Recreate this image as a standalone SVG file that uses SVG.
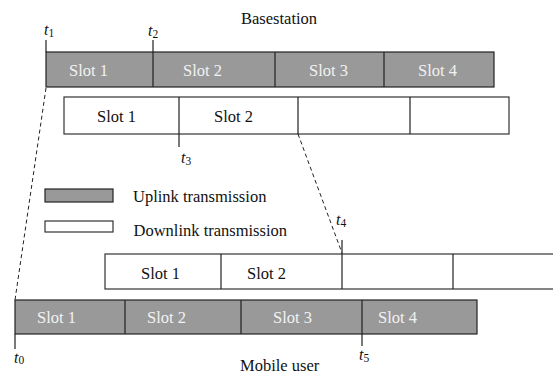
<svg xmlns="http://www.w3.org/2000/svg" width="553" height="374" viewBox="0 0 553 374">
<style>
.t{font-family:"Liberation Serif","Times New Roman",serif;font-size:16.5px;fill:#111}
.w{font-family:"Liberation Serif","Times New Roman",serif;font-size:16.5px;fill:#f2f2f2}
.it{font-family:"Liberation Serif","Times New Roman",serif;font-size:16px;font-style:italic;fill:#111}
.sub{font-size:11.5px;font-style:normal}
.up{fill:#999999;stroke:#222;stroke-width:1.2}
.dn{fill:#ffffff;stroke:#333;stroke-width:1.2}
.div{stroke:#222;stroke-width:1.2;fill:none}
.tick{stroke:#222;stroke-width:1.2;fill:none}
.dash{stroke:#222;stroke-width:1;stroke-dasharray:4,3;fill:none}
</style>
<rect width="553" height="374" fill="#ffffff"/>
<text class="t" x="241" y="24">Basestation</text>
<text class="t" x="240" y="371">Mobile user</text>

<g id="bs-uplink">
<rect class="up" x="46" y="52" width="448" height="35"/>
<path class="div" d="M153 52V87M275 52V87M384 52V87"/>
<text class="w" x="69" y="76">Slot 1</text>
<text class="w" x="183" y="76">Slot 2</text>
<text class="w" x="309" y="76">Slot 3</text>
<text class="w" x="418" y="76">Slot 4</text>
</g>

<g id="bs-downlink">
<rect class="dn" x="64" y="97" width="445" height="37"/>
<path class="div" d="M179 97V147M298 97V134M410 97V134"/>
<text class="t" x="97" y="122">Slot 1</text>
<text class="t" x="214" y="122">Slot 2</text>
</g>

<g id="legend">
<rect class="up" x="45" y="189" width="68" height="13"/>
<text class="t" x="133" y="202">Uplink transmission</text>
<rect class="dn" x="45" y="221" width="68" height="11"/>
<text class="t" x="133.5" y="236">Downlink transmission</text>
</g>

<g id="mu-downlink">
<rect class="dn" x="105" y="254" width="460" height="35"/>
<path class="div" d="M221 254V289M342 254V289M453 254V289"/>
<text class="t" x="141" y="279">Slot 1</text>
<text class="t" x="247" y="279">Slot 2</text>
</g>

<g id="mu-uplink">
<rect class="up" x="15" y="300" width="462" height="34"/>
<path class="div" d="M125 300V334M241 300V334M362 300V334"/>
<text class="w" x="37" y="323">Slot 1</text>
<text class="w" x="147" y="323">Slot 2</text>
<text class="w" x="273" y="323">Slot 3</text>
<text class="w" x="378" y="323">Slot 4</text>
</g>

<g id="connectors">
<path class="tick" d="M46 40V52M153 40V52M342 240V254M15 334V349M362 334V346"/>
<path class="dash" d="M46 88L15 300"/>
<path class="dash" d="M298 134L342 253"/>
</g>

<g id="labels">
<text class="it" x="44" y="35">t<tspan class="sub" dy="2">1</tspan></text>
<text class="it" x="148" y="36">t<tspan class="sub" dy="2">2</tspan></text>
<text class="it" x="181" y="163">t<tspan class="sub" dy="2">3</tspan></text>
<text class="it" x="336" y="225">t<tspan class="sub" dy="2">4</tspan></text>
<text class="it" x="14" y="363">t<tspan class="sub" dy="1">0</tspan></text>
<text class="it" x="359" y="360">t<tspan class="sub" dy="2">5</tspan></text>
</g>
</svg>
